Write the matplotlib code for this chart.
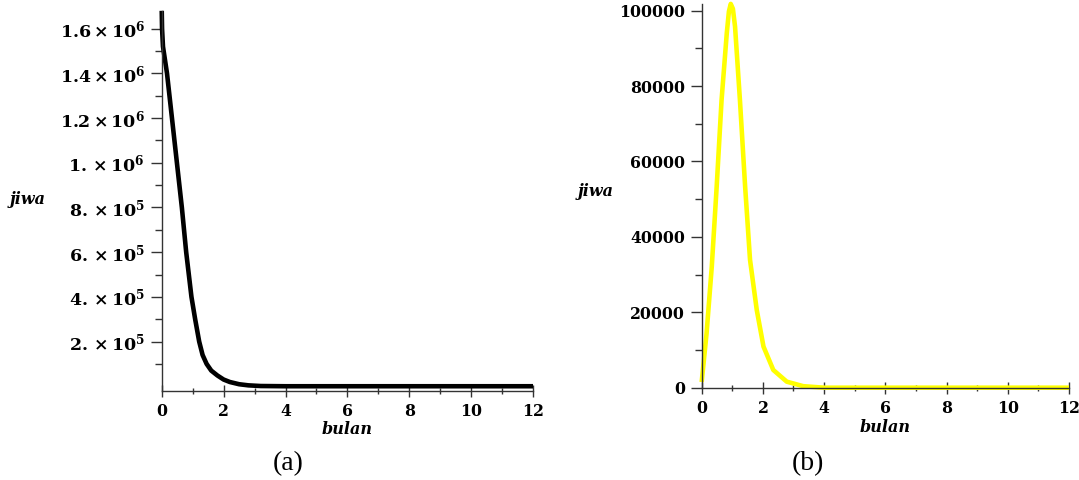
import matplotlib
matplotlib.use("Agg")
import matplotlib.pyplot as plt
from matplotlib.ticker import FixedLocator, MultipleLocator

plt.rcParams["mathtext.fontset"] = "dejavuserif"

# time axis (bulan) and population (jiwa)
months_a = [0, 0.01, 0.04, 0.17, 0.33, 0.49, 0.65, 0.79, 0.96, 1.08, 1.21, 1.32, 1.45, 1.6, 1.8, 2.0, 2.2, 2.5, 2.8, 3.2, 4, 6, 8, 10, 12]
jiwa_a = [1.68e6, 1.6e6, 1.52e6, 1.4e6, 1.2e6, 1.0e6, 8e5, 6e5, 4e5, 3e5, 2e5, 1.4e5, 1e5, 7e4, 4.8e4, 3e4, 1.9e4, 9e3, 4e3, 1e3, 0, 0, 0, 0, 0]

months_b = [0, 0.16, 0.33, 0.49, 0.65, 0.82, 0.89, 0.95, 1.02, 1.09, 1.25, 1.42, 1.58, 1.8, 2.02, 2.34, 2.78, 3.32, 4, 6, 8, 10, 12]
jiwa_b = [1500, 14400, 32100, 53300, 76300, 94000, 99800, 101800, 100500, 95800, 76300, 53300, 33900, 20600, 10900, 4700, 1600, 400, 0, 0, 0, 0, 0]

yticks_a = [2e5, 4e5, 6e5, 8e5, 1e6, 1.2e6, 1.4e6, 1.6e6]
yticklabels_a = [r"$\mathbf{2.\times10^{5}}$", r"$\mathbf{4.\times10^{5}}$", r"$\mathbf{6.\times10^{5}}$",
                 r"$\mathbf{8.\times10^{5}}$", r"$\mathbf{1.\times10^{6}}$", r"$\mathbf{1.2\times10^{6}}$",
                 r"$\mathbf{1.4\times10^{6}}$", r"$\mathbf{1.6\times10^{6}}$"]
yminor_a = [1e5, 3e5, 5e5, 7e5, 9e5, 1.1e6, 1.3e6, 1.5e6]
yticks_b = [0, 20000, 40000, 60000, 80000, 100000]
xticks = [0, 2, 4, 6, 8, 10, 12]

tick_font = dict(family="DejaVu Serif", weight="bold", size=11.3)
label_font = dict(family="DejaVu Serif", weight="bold", style="italic", size=11.5)

fig = plt.figure(figsize=(10.79, 4.8), dpi=100)
ax_a = fig.add_axes([0.1499, 0.1863, 0.3441, 0.7912])
ax_b = fig.add_axes([0.6503, 0.1923, 0.3404, 0.7996])


def style_axes(ax):
    for side in ("top", "right"):
        ax.spines[side].set_visible(False)
    for side in ("left", "bottom"):
        ax.spines[side].set_linewidth(1.0)
        ax.spines[side].set_color("#333333")
    ax.set_xlim(0, 12)
    ax.xaxis.set_major_locator(FixedLocator(xticks))
    ax.xaxis.set_minor_locator(MultipleLocator(1))
    ax.set_xticklabels([str(t) for t in xticks], fontdict=tick_font)
    ax.tick_params(axis="x", which="major", direction="inout", length=8, width=1, color="#333333", pad=5)
    ax.tick_params(axis="x", which="minor", direction="inout", length=5, width=1, color="#333333")
    ax.tick_params(axis="y", which="major", direction="out", length=8, width=1, color="#333333", pad=4)
    ax.tick_params(axis="y", which="minor", direction="out", length=5, width=1, color="#333333")
    ax.set_xlabel("bulan", fontdict=label_font, labelpad=1)
    ax.set_ylabel("jiwa", fontdict=label_font, rotation=0)


ax_a.plot(months_a, jiwa_a, color="black", lw=3.3, clip_on=False, solid_capstyle="butt")
style_axes(ax_a)
ax_a.set_ylim(-19400, 1.68e6)
ax_a.yaxis.set_major_locator(FixedLocator(yticks_a))
ax_a.yaxis.set_minor_locator(FixedLocator(yminor_a))
ax_a.set_yticklabels(yticklabels_a, fontdict=dict(tick_font, size=12.5))
ax_a.yaxis.set_label_coords(-0.36, 0.48)

ax_b.plot(months_b, jiwa_b, color="#ffff00", lw=3.3, clip_on=False, solid_capstyle="butt")
style_axes(ax_b)
ax_b.set_ylim(0, 101800)
ax_b.yaxis.set_major_locator(FixedLocator(yticks_b))
ax_b.yaxis.set_minor_locator(MultipleLocator(10000))
ax_b.set_yticklabels([str(t) for t in yticks_b], fontdict=tick_font)
ax_b.yaxis.set_label_coords(-0.29, 0.49)

fig.text(288 / 1079, 1 - 464 / 480, "(a)", ha="center", va="center", family="Liberation Serif", size=20)
fig.text(808 / 1079, 1 - 464 / 480, "(b)", ha="center", va="center", family="Liberation Serif", size=20)

fig.savefig("out.png", dpi=100)
